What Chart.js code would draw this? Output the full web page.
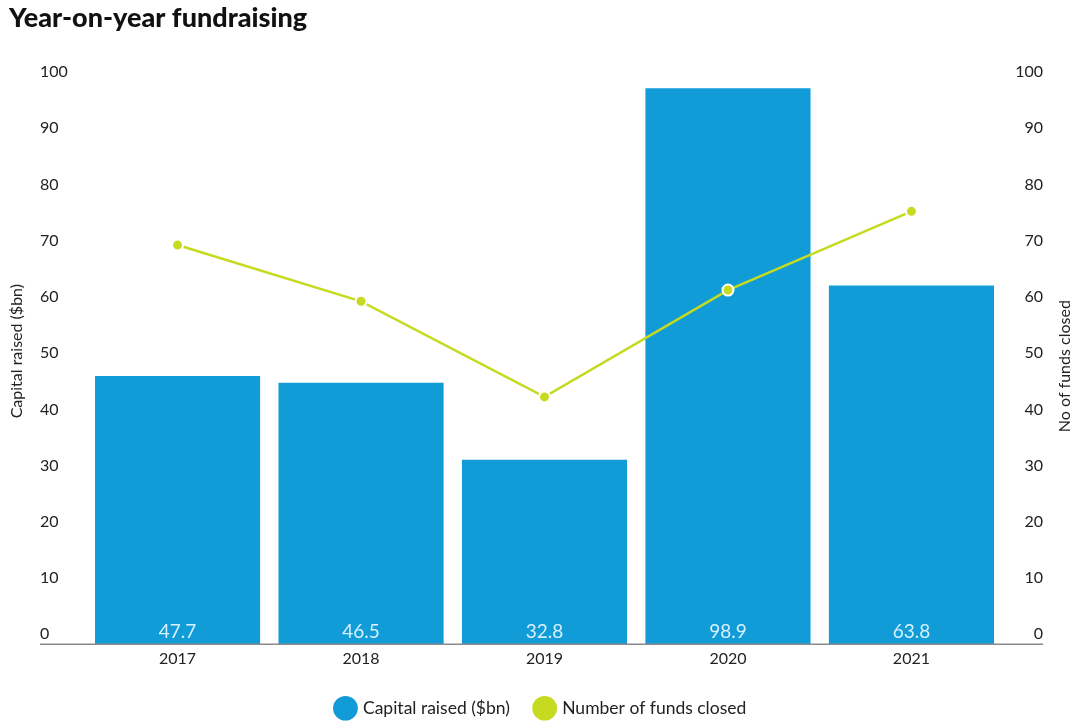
<!DOCTYPE html>
<html>
<head>
<meta charset="utf-8">
<script src="https://cdn.jsdelivr.net/npm/chart.js@4.4.1/dist/chart.umd.min.js"></script>
<style>
    html, body { margin: 0; padding: 0; background: #fff; }
    #wrap { width: 1080px; height: 727px; position: relative; }
</style>
</head>
<body>
<div id="wrap"><canvas id="fundChart" width="1080" height="727"></canvas></div>
<script>
const years = ['2017', '2018', '2019', '2020', '2021'];
const capitalRaised = [47.7, 46.5, 32.8, 98.9, 63.8];
const fundsClosed = [71, 61, 44, 63, 77];
const axisTicks = [0, 10, 20, 30, 40, 50, 60, 70, 80, 90, 100];

const BLUE = '#119bd7';
const LIME = '#c6da1f';
const TEXT = '#222';
const FONT = 'Lato, "Noto Sans", sans-serif';

// title, axis titles, bar values and the long baseline are drawn by hand
const decorations = {
    id: 'decorations',
    afterDatasetsDraw(chart) {
        const ctx = chart.ctx;
        const area = chart.chartArea;
        ctx.save();

        ctx.font = '19px ' + FONT;
        ctx.fillStyle = '#d6f1ff';
        ctx.textAlign = 'center';
        ctx.textBaseline = 'bottom';
        chart.getDatasetMeta(0).data.forEach((bar, i) => {
            ctx.fillText(capitalRaised[i].toFixed(1), bar.x, bar.base - 3);
        });

        const y0 = chart.scales.y.getPixelForValue(0);
        ctx.strokeStyle = '#8a8a8a';
        ctx.lineWidth = 1.5;
        ctx.beginPath();
        ctx.moveTo(40, y0);
        ctx.lineTo(1043, y0);
        ctx.stroke();

        ctx.fillStyle = '#111';
        ctx.textAlign = 'left';
        ctx.textBaseline = 'middle';
        ctx.font = '900 27px ' + FONT;
        ctx.fillText('Year-on-year fundraising', 9, 18);

        ctx.fillStyle = TEXT;
        ctx.font = '16px ' + FONT;
        ctx.textAlign = 'center';
        const midY = (area.top + area.bottom) / 2;
        ctx.save();
        ctx.translate(17, midY - 12);
        ctx.rotate(-Math.PI / 2);
        ctx.fillText('Capital raised ($bn)', 0, 0);
        ctx.restore();
        ctx.save();
        ctx.translate(1065, midY + 3);
        ctx.rotate(-Math.PI / 2);
        ctx.fillText('No of funds closed', 0, 0);
        ctx.restore();

        ctx.restore();
    },
};

function sideScale(position) {
    return {
        position: position,
        min: 0,
        max: 100,
        afterBuildTicks: (scale) => { scale.ticks = axisTicks.map((v) => ({ value: v })); },
        grid: { display: false, drawTicks: false },
        border: { display: false },
        ticks: {
            color: TEXT,
            font: { family: FONT, size: 16 },
            crossAlign: 'far',
            labelOffset: -10,
            padding: position === 'left' ? 9 : 6,
        },
    };
}

new Chart(document.getElementById('fundChart'), {
    data: {
        labels: years,
        datasets: [
            {
                type: 'bar',
                label: 'Capital raised ($bn)',
                data: capitalRaised,
                backgroundColor: BLUE,
                yAxisID: 'y',
                barPercentage: 1,
                categoryPercentage: 0.9,
                order: 1,
            },
            {
                type: 'line',
                label: 'Number of funds closed',
                data: fundsClosed,
                borderColor: LIME,
                backgroundColor: LIME,
                borderWidth: 2.5,
                pointRadius: 5.5,
                pointBorderColor: '#fff',
                pointBorderWidth: 2,
                tension: 0,
                yAxisID: 'y1',
                order: 0,
            },
        ],
    },
    options: {
        responsive: false,
        animation: false,
        layout: { padding: { left: 40, right: 37, top: 82, bottom: 0 } },
        scales: {
            x: {
                grid: { display: false, drawTicks: false },
                border: { display: false },
                ticks: { color: TEXT, font: { family: FONT, size: 16 }, padding: 5 },
            },
            y: sideScale('left'),
            y1: sideScale('right'),
        },
        plugins: {
            legend: {
                position: 'bottom',
                labels: {
                    color: TEXT,
                    font: { family: FONT, size: 17.5 },
                    usePointStyle: true,
                    pointStyle: 'circle',
                    boxWidth: 20,
                    boxHeight: 20,
                    padding: 26,
                    generateLabels: (chart) => chart.data.datasets.map((ds, i) => ({
                        text: ds.label,
                        fillStyle: ds.backgroundColor,
                        strokeStyle: ds.backgroundColor,
                        lineWidth: 0,
                        pointStyle: 'circle',
                        fontColor: TEXT,
                        datasetIndex: i,
                    })),
                },
            },
            tooltip: { enabled: false },
        },
    },
    plugins: [decorations],
});
</script>
</body>
</html>
